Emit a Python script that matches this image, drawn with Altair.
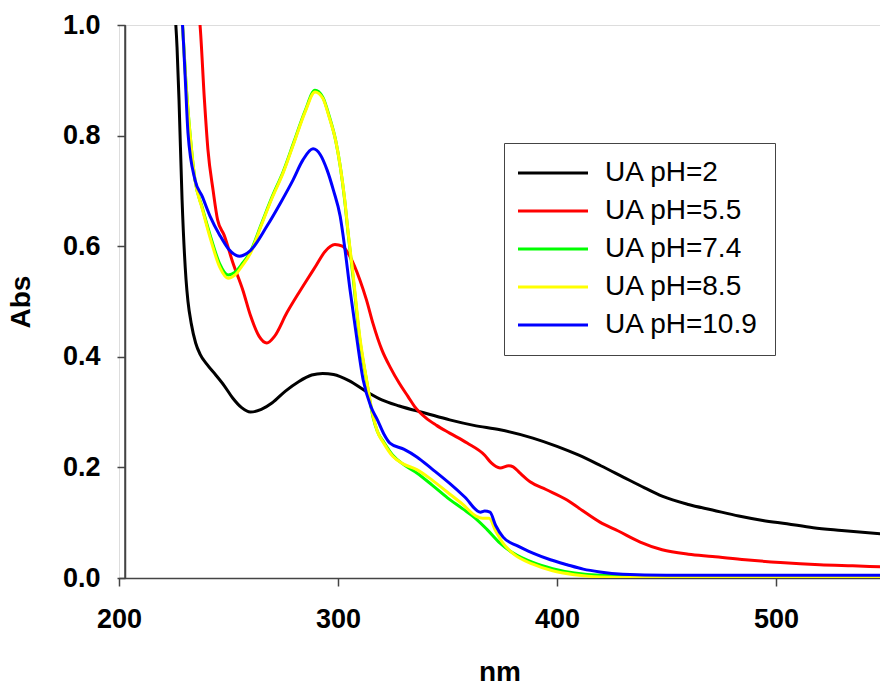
import altair as alt
import pandas as pd

labels = ["UA pH=2", "UA pH=5.5", "UA pH=7.4", "UA pH=8.5", "UA pH=10.9"]
colors = ["#000000", "#ff0000", "#00ff00", "#ffff00", "#0000ff"]

x_ph2 = [225, 226.5, 227.4, 228.8, 230.6, 231.5, 233, 235, 237, 240, 244, 248, 252, 256, 260, 265, 270, 276,
         282, 288, 293, 298, 305, 313, 320, 328, 340, 351, 362, 374, 389, 400, 410, 420, 430, 440, 448, 460,
         471, 483, 494, 505, 517, 530, 550]
y_ph2 = [1.05, 0.96, 0.865, 0.684, 0.54, 0.50, 0.46, 0.425, 0.405, 0.387, 0.368, 0.348, 0.325, 0.308, 0.300,
         0.305, 0.317, 0.338, 0.355, 0.367, 0.370, 0.368, 0.357, 0.337, 0.322, 0.311, 0.298, 0.286, 0.276,
         0.268, 0.253, 0.238, 0.222, 0.203, 0.183, 0.163, 0.148, 0.133, 0.123, 0.112, 0.104, 0.098, 0.091,
         0.086, 0.079]

x_ph55 = [235.5, 237, 239, 240.6, 243, 245, 248, 252, 256.6, 260, 264, 267.5, 271, 276.7, 282, 285.8, 290,
          294, 298.6, 302, 305.5, 310, 313, 316, 320, 324, 328, 332, 335, 340, 345, 351, 359, 367, 370, 374,
          378, 380, 383, 387.7, 395, 404.6, 410.5, 419.6, 428, 438, 448, 460, 471, 486, 502, 520, 535, 550]
y_ph55 = [1.05, 1.0, 0.865, 0.775, 0.70, 0.648, 0.62, 0.57, 0.52, 0.475, 0.437, 0.425, 0.437, 0.48, 0.515,
          0.539, 0.565, 0.590, 0.603, 0.600, 0.581, 0.539, 0.503, 0.46, 0.413, 0.38, 0.352, 0.328, 0.31,
          0.29, 0.276, 0.262, 0.244, 0.222, 0.208, 0.199, 0.203, 0.201, 0.19, 0.174, 0.160, 0.141, 0.125,
          0.101, 0.085, 0.065, 0.051, 0.043, 0.039, 0.033, 0.028, 0.024, 0.022, 0.020]

x_ph74 = [228, 229, 230.5, 232.4, 234.7, 238, 242, 246, 249.8, 253, 256, 260, 265, 270, 275, 280, 285, 289.5,
          293, 296, 299, 301, 303, 304.6, 307, 310, 313, 316, 318, 321, 325, 330, 336, 343, 350, 357, 363,
          368, 374, 380, 389, 398, 408, 419.6, 440, 480, 520, 550]
y_ph74 = [1.05, 1.0, 0.9, 0.805, 0.72, 0.67, 0.615, 0.568, 0.548, 0.553, 0.567, 0.59, 0.64, 0.69, 0.735,
          0.79, 0.845, 0.882, 0.87, 0.835, 0.79, 0.745, 0.685, 0.624, 0.54, 0.43, 0.358, 0.291, 0.265, 0.245,
          0.222, 0.205, 0.19, 0.168, 0.145, 0.125, 0.107, 0.088, 0.063, 0.045, 0.028, 0.017, 0.009, 0.005,
          0.004, 0.004, 0.004, 0.004]

x_ph85 = [228, 229, 230.5, 232.4, 234.7, 238, 242, 246, 249.8, 253, 256, 260, 265, 270, 275, 280, 285, 289.5,
          293, 296, 299, 301, 303, 304.6, 307, 310, 313, 316, 318, 321, 325, 330, 336, 343, 350, 357, 363,
          366, 369, 372, 375, 380, 389, 398, 408, 419.6, 440, 480, 520, 550]
y_ph85 = [1.05, 1.0, 0.9, 0.805, 0.72, 0.668, 0.61, 0.562, 0.542, 0.548, 0.563, 0.587, 0.638, 0.688, 0.733,
          0.788, 0.843, 0.879, 0.868, 0.833, 0.79, 0.745, 0.687, 0.626, 0.545, 0.435, 0.36, 0.293, 0.265,
          0.243, 0.22, 0.206, 0.196, 0.177, 0.155, 0.133, 0.112, 0.108, 0.108, 0.085, 0.065, 0.044, 0.025,
          0.013, 0.006, 0.002, 0.001, 0.001, 0.001, 0.001]

x_ph109 = [228, 229, 230.3, 231.5, 234.7, 238, 241.6, 246, 250, 255, 260, 267.5, 274, 279.5, 284, 288.6, 292,
           295, 298, 301, 303, 305.5, 308, 311.5, 315, 318, 321, 323.7, 330, 336, 343, 351, 358, 365, 367,
           369.4, 372, 375.4, 382, 389, 397, 404.6, 412, 419.6, 430, 450, 500, 550]
y_ph109 = [1.05, 1.0, 0.9, 0.805, 0.72, 0.69, 0.654, 0.62, 0.595, 0.582, 0.592, 0.636, 0.68, 0.72, 0.756,
           0.776, 0.765, 0.738, 0.70, 0.654, 0.60, 0.521, 0.45, 0.358, 0.31, 0.286, 0.26, 0.244, 0.233, 0.219,
           0.197, 0.171, 0.146, 0.119, 0.121, 0.119, 0.095, 0.074, 0.058, 0.045, 0.033, 0.024, 0.016, 0.011,
           0.007, 0.005, 0.005, 0.005]

series_x = [x_ph2, x_ph55, x_ph74, x_ph85, x_ph109]
series_y = [y_ph2, y_ph55, y_ph74, y_ph85, y_ph109]

rows = []
for i, (lab, xs, ys) in enumerate(zip(labels, series_x, series_y)):
    for j, (xv, yv) in enumerate(zip(xs, ys)):
        rows.append({"nm": xv, "Abs": yv, "series": lab, "k": i, "j": j})
df = pd.DataFrame(rows)

FONT = "Liberation Sans"
AXC = "#444444"

lines = alt.Chart(df).mark_line(strokeWidth=3, clip=True, interpolate="monotone").encode(
    x=alt.X("nm:Q", scale=alt.Scale(domain=[200, 547.5], nice=False, zero=False),
            axis=alt.Axis(title="nm", values=[200, 300, 400, 500], format="d", grid=False,
                          tickSize=8, labelPadding=20, labelFontSize=27, labelFont=FONT,
                          labelFontWeight="bold", labelColor="black", labelFlush=False,
                          titleFontSize=28, titleFont=FONT, titleFontWeight="bold",
                          titleColor="black", titlePadding=26, domainColor=AXC, tickColor=AXC,
                          domainWidth=1.5, tickWidth=1.5)),
    y=alt.Y("Abs:Q", scale=alt.Scale(domain=[0, 1], nice=False),
            axis=alt.Axis(title="Abs", values=[0, 0.2, 0.4, 0.6, 0.8, 1.0], format=".1f", grid=False,
                          offset=-6, tickSize=8, labelPadding=17, labelFontSize=27, labelFont=FONT,
                          labelFontWeight="bold", labelColor="black", labelFlush=False,
                          titleFontSize=28, titleFont=FONT, titleFontWeight="bold",
                          titleColor="black", titlePadding=27, domainColor=AXC, tickColor=AXC,
                          domainWidth=1.5, tickWidth=1.5)),
    color=alt.Color("series:N", scale=alt.Scale(domain=labels, range=colors),
                    legend=alt.Legend(orient="none", legendX=385, legendY=118, title=None,
                                      symbolType="M-1.6,0H5.4", symbolSize=400, symbolStrokeWidth=3,
                                      labelFontSize=28, labelFont=FONT, labelColor="black",
                                      padding=16, rowPadding=10, labelOffset=57, labelLimit=0,
                                      strokeColor=AXC, fillColor="white")),
    detail="k:N",
    order="j:Q",
)

top = alt.Chart(pd.DataFrame({"Abs": [1.0]})).mark_rule(color=AXC, strokeWidth=1.5).encode(
    y="Abs:Q", x=alt.value(6)
)

chart = alt.layer(lines, top).properties(
    width=761, height=553,
    autosize=alt.AutoSizeParams(type="none"),
    padding={"left": 119, "top": 25, "right": 0, "bottom": 108},
).configure_view(stroke=None).configure(background="white")

chart.save("out.html", embed_options={"renderer": "svg", "actions": False})
